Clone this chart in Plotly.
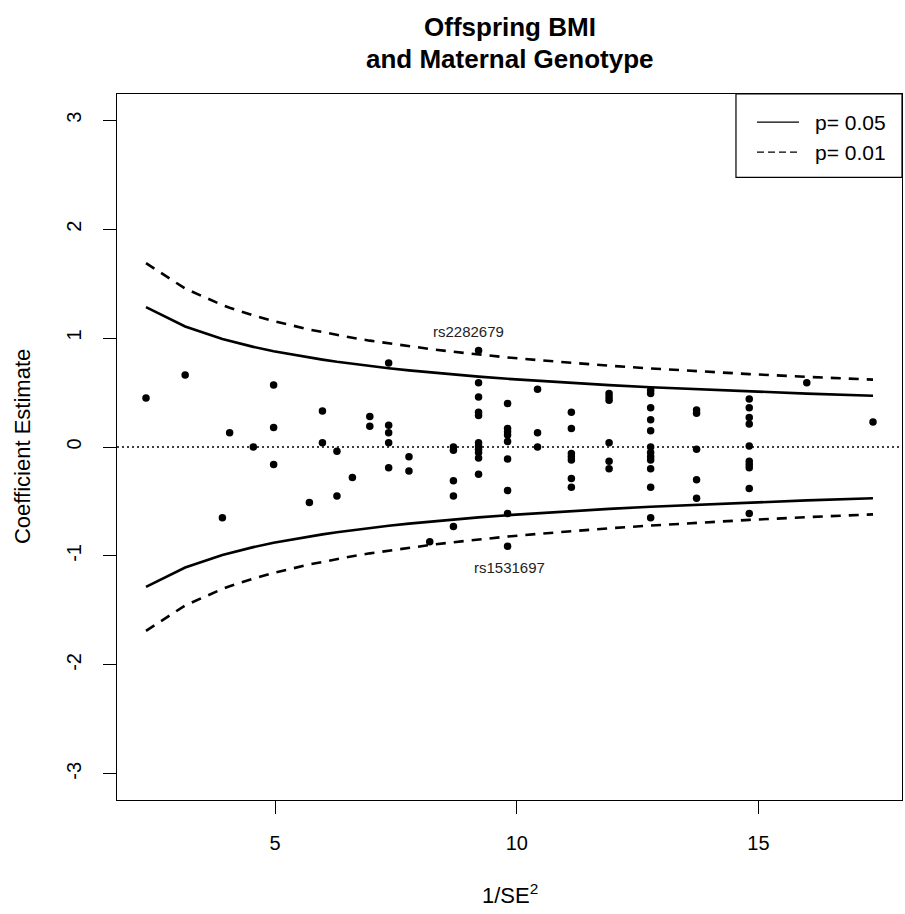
import plotly.graph_objects as go

# ---- data ----
inv_se2 = [2.33, 3.14, 3.91, 4.06, 4.55,
           4.97, 4.97, 4.97, 5.71, 5.98, 5.98, 6.28, 6.28, 6.60, 6.96, 6.96,
           7.35, 7.35, 7.35, 7.35, 7.35, 7.77, 7.77, 8.20,
           8.69, 8.69, 8.69, 8.69, 8.69,
           9.21, 9.21, 9.21, 9.21, 9.21, 9.21, 9.21, 9.21, 9.21, 9.21, 9.21,
           9.81, 9.81, 9.81, 9.81, 9.81, 9.81, 9.81, 9.81, 9.81,
           10.43, 10.43, 10.43,
           11.13, 11.13, 11.13, 11.13, 11.13, 11.13, 11.13,
           11.91, 11.91, 11.91, 11.91, 11.91, 11.91,
           12.77, 12.77, 12.77, 12.77, 12.77, 12.77, 12.77, 12.77, 12.77, 12.77, 12.77, 12.77,
           13.72, 13.72, 13.72, 13.72, 13.72,
           14.81, 14.81, 14.81, 14.81, 14.81, 14.81, 14.81, 14.81, 14.81, 14.81,
           16.00, 17.37]
coef = [0.45, 0.66, -0.65, 0.13, 0.00,
        0.57, 0.18, -0.16, -0.51, 0.33, 0.04, -0.04, -0.45, -0.28, 0.28, 0.19,
        0.77, 0.20, 0.13, 0.04, -0.19, -0.09, -0.22, -0.87,
        0.00, -0.03, -0.31, -0.45, -0.73,
        0.885, 0.59, 0.46, 0.32, 0.29, 0.04, 0.01, -0.02, -0.05, -0.10, -0.25,
        0.40, 0.17, 0.14, 0.11, 0.05, -0.11, -0.40, -0.61, -0.91,
        0.53, 0.13, 0.00,
        0.32, 0.17, -0.06, -0.09, -0.12, -0.29, -0.37,
        0.49, 0.46, 0.43, 0.04, -0.13, -0.20,
        0.52, 0.49, 0.36, 0.25, 0.15, 0.00, -0.05, -0.09, -0.12, -0.20, -0.37, -0.65,
        0.34, 0.31, -0.02, -0.30, -0.47,
        0.44, 0.36, 0.27, 0.21, 0.01, -0.13, -0.16, -0.19, -0.38, -0.61,
        0.59, 0.23]

curve_x = [2.33, 3.14, 3.91, 4.06, 4.55, 4.97, 5.71, 5.98, 6.28, 6.60, 6.96, 7.35, 7.77,
           8.20, 8.69, 9.21, 9.81, 10.43, 11.13, 11.91, 12.77, 13.72, 14.81, 16.00, 17.37]
p05_upper = [1.284, 1.106, 0.991, 0.973, 0.919, 0.879, 0.820, 0.802, 0.782, 0.763, 0.743,
             0.723, 0.703, 0.684, 0.665, 0.646, 0.626, 0.607, 0.588, 0.568, 0.548, 0.529,
             0.509, 0.490, 0.470]
p05_lower = [-1.284, -1.106, -0.991, -0.973, -0.919, -0.879, -0.820, -0.802, -0.782, -0.763,
             -0.743, -0.723, -0.703, -0.684, -0.665, -0.646, -0.626, -0.607, -0.588, -0.568,
             -0.548, -0.529, -0.509, -0.490, -0.470]
p01_upper = [1.688, 1.454, 1.303, 1.278, 1.208, 1.156, 1.078, 1.054, 1.028, 1.003, 0.976,
             0.950, 0.924, 0.900, 0.874, 0.849, 0.822, 0.798, 0.772, 0.746, 0.721, 0.695,
             0.669, 0.644, 0.618]
p01_lower = [-1.688, -1.454, -1.303, -1.278, -1.208, -1.156, -1.078, -1.054, -1.028, -1.003,
             -0.976, -0.950, -0.924, -0.900, -0.874, -0.849, -0.822, -0.798, -0.772, -0.746,
             -0.721, -0.695, -0.669, -0.644, -0.618]

snp_labels = ["rs2282679", "rs1531697"]
snp_label_x = [9.00, 9.84]
snp_label_y = [1.06, -1.11]

x_ticks = [5, 10, 15]
y_ticks = [-3, -2, -1, 0, 1, 2, 3]
y_tick_text = ["-3", "-2", "-1", "0", "1", "2", "3"]

legend_names = ["p= 0.05", "p= 0.01"]
title_lines = ["Offspring BMI", "and Maternal Genotype"]

FONT = "Arial, Liberation Sans, sans-serif"
SOLID = dict(color="black", width=2.6)
DASHED = dict(color="black", width=2.6, dash="10px,8px")

fig = go.Figure()

fig.add_trace(go.Scatter(
    x=inv_se2, y=coef, mode="markers",
    marker=dict(color="black", size=7.5), showlegend=False))

fig.add_trace(go.Scatter(
    x=curve_x + [None] + curve_x, y=p05_upper + [None] + p05_lower,
    mode="lines", line=SOLID, name=legend_names[0], showlegend=False))
fig.add_trace(go.Scatter(
    x=curve_x + [None] + curve_x, y=p01_upper + [None] + p01_lower,
    mode="lines", line=DASHED, name=legend_names[1], showlegend=False))

fig.add_hline(y=0, line=dict(color="black", width=1.3, dash="2px,3px"))

for t, lx, ly in zip(snp_labels, snp_label_x, snp_label_y):
    fig.add_annotation(x=lx, y=ly, text=t, showarrow=False,
                       font=dict(family=FONT, size=15, color="#222222"))

# title (two centred bold lines)
for line, py in zip(title_lines, [1.0955, 1.0490]):
    fig.add_annotation(xref="paper", yref="paper", x=0.5, y=py, yanchor="middle",
                       text="<b>%s</b>" % line, showarrow=False,
                       font=dict(family=FONT, size=26, color="black"))

# axis titles
fig.add_annotation(xref="paper", yref="paper", x=0.5, y=-0.133, yanchor="middle",
                   text="1/SE<sup>2</sup>", showarrow=False,
                   font=dict(family=FONT, size=22, color="black"))
fig.add_annotation(xref="paper", yref="paper", x=-0.121, y=0.5, xanchor="center",
                   yanchor="middle", text="Coefficient Estimate", textangle=-90,
                   showarrow=False, font=dict(family=FONT, size=22, color="black"))

# legend box (R-style, top-right corner of the plot region)
fig.add_shape(type="rect", xref="paper", yref="paper", x0=0.7885, x1=1.0, y0=0.882, y1=1.0,
              line=dict(color="black", width=1.2), fillcolor="white", layer="above")
for name, ly, ldash in zip(legend_names, [0.9603, 0.9178], ["solid", "7px,4px"]):
    fig.add_shape(type="line", xref="paper", yref="paper", x0=0.8153, x1=0.8688, y0=ly, y1=ly,
                  line=dict(color="black", width=1.3, dash=ldash), layer="above")
    fig.add_annotation(xref="paper", yref="paper", x=0.8866, y=ly, xanchor="left",
                       yanchor="middle", text=name, showarrow=False,
                       font=dict(family=FONT, size=21, color="black"))

fig.update_layout(
    width=905, height=914,
    margin=dict(l=117, r=3, t=94, b=114),
    paper_bgcolor="white", plot_bgcolor="white",
    font=dict(family=FONT, color="black"),
    showlegend=False,
)

fig.update_xaxes(range=[1.73, 17.97], tickvals=x_ticks, ticks="outside", ticklen=13,
                 tickcolor="black", showline=True, linecolor="black", linewidth=1.2,
                 mirror=True, showgrid=False, zeroline=False, ticklabelstandoff=12,
                 tickfont=dict(family=FONT, size=20, color="black"))
fig.update_yaxes(range=[-3.24, 3.24], tickvals=y_ticks, ticktext=y_tick_text,
                 ticks="outside", ticklen=13,
                 tickcolor="black", showline=True, linecolor="black", linewidth=1.2,
                 mirror=True, showgrid=False, zeroline=False, tickangle=-90,
                 ticklabelstandoff=14,
                 tickfont=dict(family=FONT, size=20, color="black"))

fig.write_html("out.html")
